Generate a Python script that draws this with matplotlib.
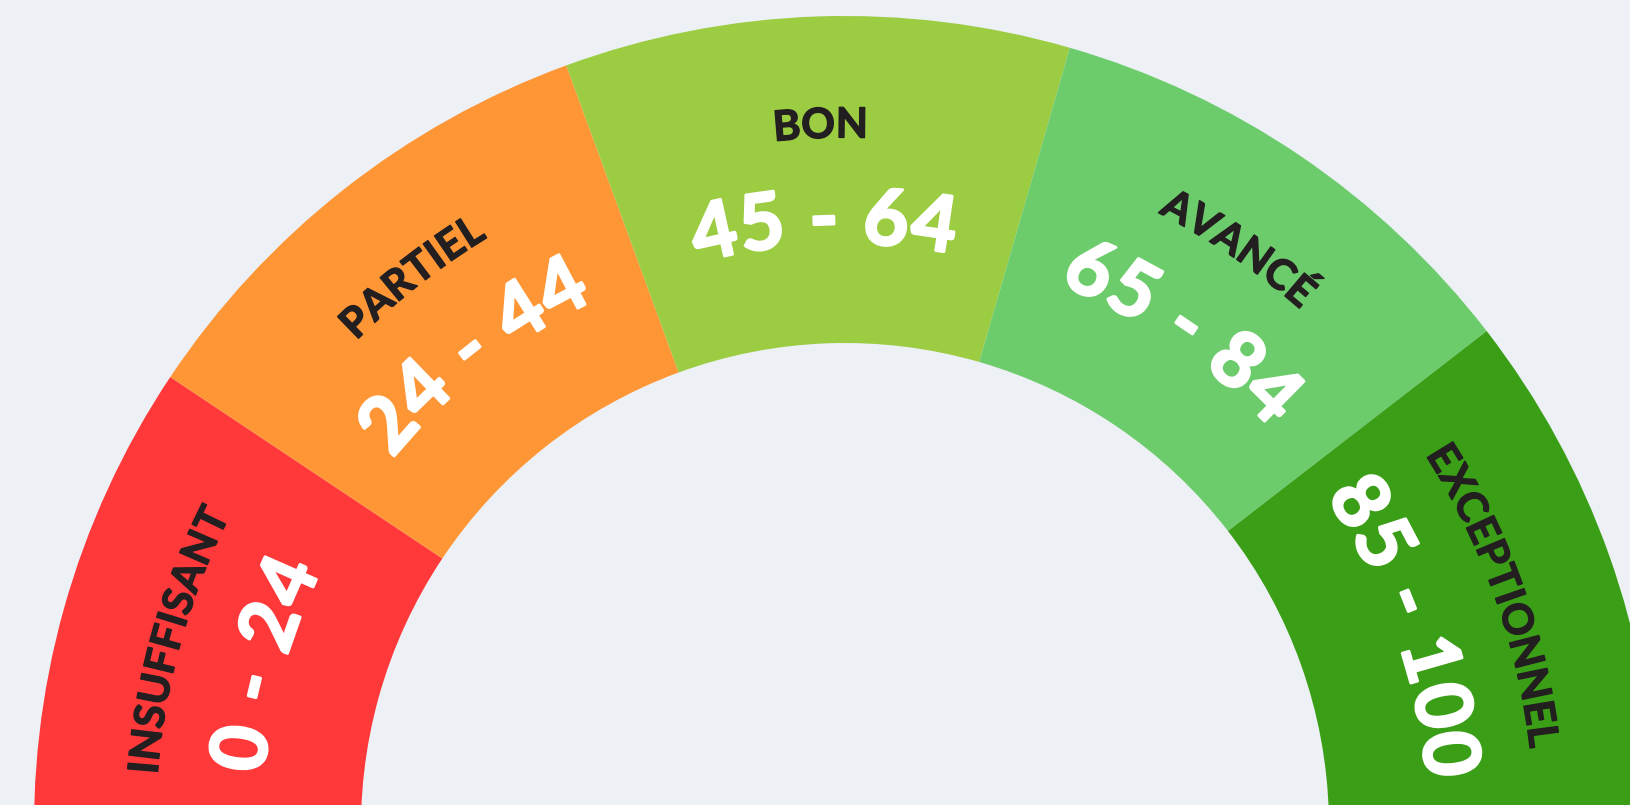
import numpy as np
import matplotlib.pyplot as plt
import matplotlib.patheffects as pe
from matplotlib.patches import Wedge
from matplotlib.font_manager import FontProperties

# gauge data
levels = ["INSUFFISANT", "PARTIEL", "BON", "AVANCÉ", "EXCEPTIONNEL"]
ranges = ["0 - 24", "24 - 44", "45 - 64", "65 - 84", "85 - 100"]
shares = [20, 20, 20, 20, 20]
colors = ["#ff383a", "#ff9636", "#9bcc41", "#6ccc6c", "#3a9e16"]

bg = "#edf0f5"
W, H, DPI = 1630, 805, 100
cx, cy = 845, -22
r_out, r_in = 811, 484
start, span = 182.5, 181.0

fig = plt.figure(figsize=(W / DPI, H / DPI), dpi=DPI, facecolor=bg)
ax = fig.add_axes([0, 0, 1, 1])
ax.set_xlim(0, W)
ax.set_ylim(0, H)
ax.axis('off')

edges = start - np.concatenate([[0], np.cumsum(shares)]) / sum(shares) * span
for i, c in enumerate(colors):
    ax.add_patch(Wedge((cx, cy), r_out, edges[i + 1], edges[i],
                       width=r_out - r_in, facecolor=c, edgecolor='none'))

renderer = fig.canvas.get_renderer()


def advance(ch, fp):
    w1 = renderer.get_text_width_height_descent("H" + ch + "H", fp, ismath=False)[0]
    w0 = renderer.get_text_width_height_descent("HH", fp, ismath=False)[0]
    return w1 - w0


def arc_text(s, theta_c, radius, fp, color, track=0.0, stroke=1.0):
    # place each character along the arc, reading clockwise
    adv = np.array([advance(ch, fp) for ch in s]) + track
    total = adv.sum() - track
    pos = np.cumsum(adv) - adv / 2 - track / 2 - total / 2
    cap = renderer.get_text_width_height_descent("H", fp, ismath=False)[1]
    rb = radius - cap / 2
    for ch, p in zip(s, pos):
        th = np.radians(theta_c) - p / radius
        ax.text(cx + rb * np.cos(th), cy + rb * np.sin(th), ch,
                fontproperties=fp, color=color, ha='center', va='baseline',
                rotation=np.degrees(th) - 90, rotation_mode='anchor',
                path_effects=[pe.withStroke(linewidth=stroke, foreground=color)])


label_fp = FontProperties(family='Lato', weight='bold', size=30)
range_fp = FontProperties(family='Lato', weight='bold', size=56)

mids = (edges[:-1] + edges[1:]) / 2
for lab, rng, th in zip(levels, ranges, mids):
    arc_text(lab, th, 705, label_fp, '#231f20', track=1, stroke=1.0)
    arc_text(rng, th, 612, range_fp, 'white', track=3.5, stroke=2.0)

fig.savefig('out.png', dpi=DPI, facecolor=bg)
